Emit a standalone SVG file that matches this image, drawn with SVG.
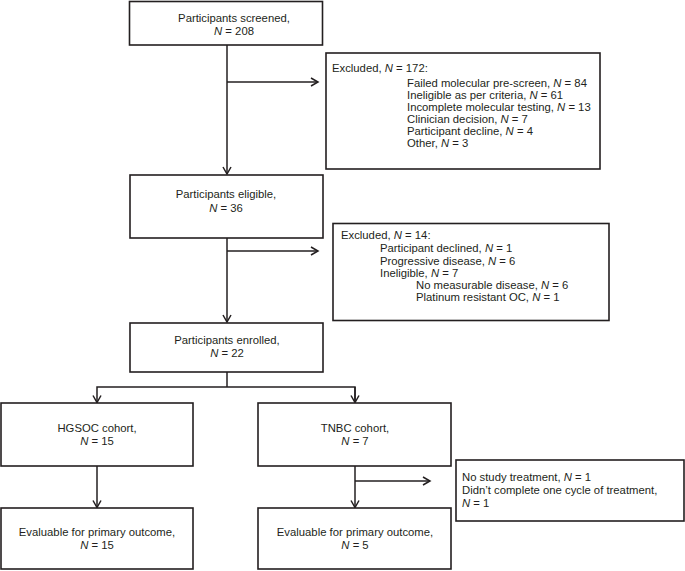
<svg xmlns="http://www.w3.org/2000/svg" width="685" height="571" viewBox="0 0 685 571">
<style>
.box{fill:#fff;stroke:#231f20;stroke-width:1.6}
.ln{fill:none;stroke:#231f20;stroke-width:1.5}
text{font-family:"Liberation Sans",Arial,sans-serif;font-size:11.3px;fill:#231f20}
.c{text-anchor:middle}
.i{font-style:italic}
</style>
<defs>
<marker id="ah" markerUnits="userSpaceOnUse" viewBox="0 0 10 10" refX="8.5" refY="5" markerWidth="10" markerHeight="10" orient="auto">
<path d="M1.5,1 L8.5,5 L1.5,9" fill="none" stroke="#231f20" stroke-width="1.5"/>
</marker>
</defs>
<rect width="685" height="571" fill="#fff"/>
<g id="connectors">
<path class="ln" d="M227,45 V174" marker-end="url(#ah)"/>
<path class="ln" d="M227,82 H318" marker-end="url(#ah)"/>
<path class="ln" d="M227,238 V322" marker-end="url(#ah)"/>
<path class="ln" d="M227,251 H318" marker-end="url(#ah)"/>
<path class="ln" d="M227,372 V387"/>
<path class="ln" d="M97,402 V387 H355 V402"/>
<path class="ln" d="M97,402 V402.5" marker-end="url(#ah)"/>
<path class="ln" d="M355,387 V402.5" marker-end="url(#ah)"/>
<path class="ln" d="M97,466 V507.5" marker-end="url(#ah)"/>
<path class="ln" d="M355,466 V507.5" marker-end="url(#ah)"/>
<path class="ln" d="M355,481 H430" marker-end="url(#ah)"/>
</g>
<g id="screened">
<rect class="box" x="129.5" y="1.5" width="193" height="43.5"/>
<text class="c" x="234" y="21.5">Participants screened,</text>
<text class="c" x="234" y="34.5"><tspan class="i">N</tspan> = 208</text>
</g>
<g id="excluded1">
<rect class="box" x="326" y="53" width="274" height="116"/>
<text x="332" y="72">Excluded, <tspan class="i">N</tspan> = 172:</text>
<text x="407" y="86.5">Failed molecular pre-screen, <tspan class="i">N</tspan> = 84</text>
<text x="407" y="98.5">Ineligible as per criteria, <tspan class="i">N</tspan> = 61</text>
<text x="407" y="110.5">Incomplete molecular testing, <tspan class="i">N</tspan> = 13</text>
<text x="407" y="122.5">Clinician decision, <tspan class="i">N</tspan> = 7</text>
<text x="407" y="134.5">Participant decline, <tspan class="i">N</tspan> = 4</text>
<text x="407" y="146.5">Other, <tspan class="i">N</tspan> = 3</text>
</g>
<g id="eligible">
<rect class="box" x="130" y="175" width="193" height="63"/>
<text class="c" x="226" y="198">Participants eligible,</text>
<text class="c" x="226" y="211.5"><tspan class="i">N</tspan> = 36</text>
</g>
<g id="excluded2">
<rect class="box" x="333" y="223.5" width="276" height="97"/>
<text x="341" y="239">Excluded, <tspan class="i">N</tspan> = 14:</text>
<text x="380" y="252">Participant declined, <tspan class="i">N</tspan> = 1</text>
<text x="380" y="264.5">Progressive disease, <tspan class="i">N</tspan> = 6</text>
<text x="380" y="276.5">Ineligible, <tspan class="i">N</tspan> = 7</text>
<text x="416" y="289">No measurable disease, <tspan class="i">N</tspan> = 6</text>
<text x="416" y="301">Platinum resistant OC, <tspan class="i">N</tspan> = 1</text>
</g>
<g id="enrolled">
<rect class="box" x="130" y="323" width="193" height="49"/>
<text class="c" x="227" y="344">Participants enrolled,</text>
<text class="c" x="227" y="356.5"><tspan class="i">N</tspan> = 22</text>
</g>
<g id="hgsoc">
<rect class="box" x="1" y="403" width="192" height="63"/>
<text class="c" x="97" y="432">HGSOC cohort,</text>
<text class="c" x="97" y="444.5"><tspan class="i">N</tspan> = 15</text>
</g>
<g id="tnbc">
<rect class="box" x="258" y="403" width="193" height="63"/>
<text class="c" x="355" y="432">TNBC cohort,</text>
<text class="c" x="355" y="444.5"><tspan class="i">N</tspan> = 7</text>
</g>
<g id="notreat">
<rect class="box" x="456" y="460" width="228" height="61"/>
<text x="462" y="481">No study treatment, <tspan class="i">N</tspan> = 1</text>
<text x="462" y="494">Didn’t complete one cycle of treatment,</text>
<text x="462" y="506.5"><tspan class="i">N</tspan> = 1</text>
</g>
<g id="eval1">
<rect class="box" x="1" y="508" width="192" height="61"/>
<text class="c" x="97" y="536">Evaluable for primary outcome,</text>
<text class="c" x="97" y="549"><tspan class="i">N</tspan> = 15</text>
</g>
<g id="eval2">
<rect class="box" x="258" y="508" width="193" height="61"/>
<text class="c" x="355" y="536">Evaluable for primary outcome,</text>
<text class="c" x="355" y="549"><tspan class="i">N</tspan> = 5</text>
</g>
</svg>
